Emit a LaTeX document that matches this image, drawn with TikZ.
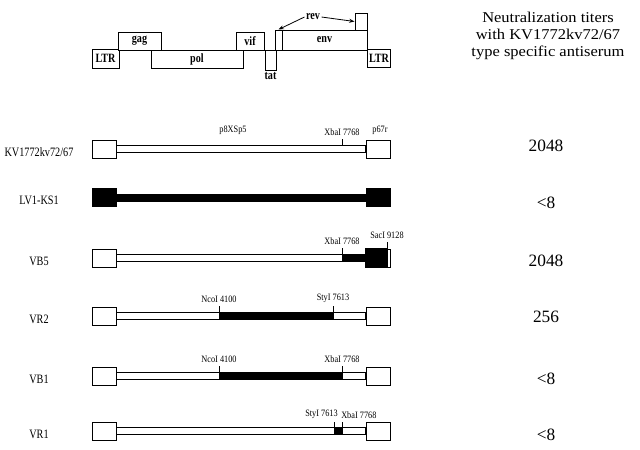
\documentclass[tikz,border=0pt]{standalone}
\usepackage{fontspec}
\setmainfont{Liberation Serif}
\newfontfamily\condfont[FakeStretch=0.8]{Liberation Serif}
\newfontfamily\sitefont[FakeStretch=0.85]{Liberation Serif}
\newfontfamily\widefont[FakeStretch=1.1]{Liberation Serif}
\usetikzlibrary{arrows.meta,positioning}
\tikzset{
  endbox/.style={draw,line width=0.75pt,minimum width=18pt,minimum height=13.5pt,inner sep=0pt},
  barbox/.style={draw,line width=0.6pt},
  blk/.style={draw,fill=black,line width=0.6pt},
  gene/.style={draw,fill=white,line width=0.75pt,inner sep=0pt,font=\condfont\bfseries\fontsize{9.5}{10}\selectfont},
  genelab/.style={inner sep=1pt,font=\condfont\bfseries\fontsize{9.5}{10}\selectfont},
  cut/.style={line width=0.6pt},
  site/.style={inner sep=0pt,anchor=south,yshift=2.25pt,font=\sitefont\fontsize{7.3}{8}\selectfont},
  rowlab/.style={font=\condfont\fontsize{9.6}{10}\selectfont},
  titer/.style={anchor=base,font=\fontsize{13}{15}\selectfont},
}
\begin{document}
\begin{tikzpicture}[x=0.75pt,y=-0.75pt]
\useasboundingbox (0,0) rectangle (640,450);
% genome map
\node[gene,minimum width=20.25pt,minimum height=14.25pt] (ltrL) at (105.5,58.5) {LTR};
\node[gene,minimum width=69pt,minimum height=13.5pt] (pol) at (197,59) {pol};
\node[gene,minimum width=32.25pt,minimum height=13.5pt] (gag) at (139.5,41) {gag};
\node[gene,minimum width=21pt,minimum height=13.5pt] (vif) at (250,41) {vif};
\node[gene,minimum width=8.25pt,minimum height=15pt] (tat) at (270.5,60) {};
\node[genelab,below=0.5pt of tat] (tatlab) {tat};
\node[gene,minimum width=5.25pt,minimum height=15pt] (revA) at (278.5,40) {};
\node[gene,minimum width=63.75pt,minimum height=15pt] (env) at (324.5,40) {env};
\node[gene,minimum width=9pt,minimum height=12.75pt] (revB) at (361,21.5) {};
\node[gene,minimum width=17.25pt,minimum height=13.5pt] (ltrR) at (379,58) {LTR};
\node[genelab] (rev) at (313,17) {rev};
\draw[line width=0.6pt,-{Stealth[length=4pt,width=3pt]}] (rev.west) -- (revA.north);
\draw[line width=0.6pt,-{Stealth[length=4pt,width=3pt]}] (rev.east) -- (revB.west);
\node[align=center,font=\widefont\fontsize{11.25}{12.75}\selectfont] (title) at (548,36)
  {Neutralization titers\\with KV1772kv72/67\\type specific antiserum};
% constructs
\foreach \r/\y/\c/\lab/\t/\b in {kv/149/white/KV1772kv72\slash 67/2048/151,
  lv/197.5/black/LV1-KS1/<8/208, vbf/258/white/VB5/2048/266,
  vrt/316/white/VR2/256/322, vbo/376/white/VB1/<8/384, vro/431/white/VR1/<8/440}{
  \node[endbox,fill=\c] (\r L) at (104,\y) {};
  \node[endbox,fill=\c] (\r R) at (378,\y) {};
  \draw[barbox,fill=\c] ([yshift=2.625pt]\r L.east) rectangle ([yshift=-2.625pt]\r R.west);
  \node[rowlab] (\r lab) at (39,\y+3) {\lab};
  \node[titer] (\r tit) at (546,\b) {\t};
}
% KV1772kv72/67
\node[site,anchor=base,yshift=0pt] (kvsp) at (233,135.5) {p8XSp5};
\node[site,anchor=base,yshift=0pt] (kvpr) at (380,135.5) {p67r};
\draw[cut] (342,145.5) -- (342,138.5) node[site] (kvxb) {XbaI 7768};
% VB5
\draw[blk] (342,254.5) rectangle (366,261.5);
\draw[blk] (vbfR.north west) rectangle ([xshift=-2.25pt]vbfR.south east);
\draw[cut] (342,254.5) -- (342,247.5) node[site] (vbfxb) {XbaI 7768};
\draw[cut] (387,249) -- (387,242) node[site] (vbfsac) {SacI 9128};
% VR2
\draw[blk] (219,312.5) rectangle (333,319.5);
\draw[cut] (219,312.5) -- (219,305.5) node[site] (vrtnco) {NcoI 4100};
\draw[cut] (333,312.5) -- (333,305.5) node[site] (vrtsty) {StyI 7613};
% VB1
\draw[blk] (219,372.5) rectangle (342,379.5);
\draw[cut] (219,372.5) -- (219,365.5) node[site] (vbonco) {NcoI 4100};
\draw[cut] (342,372.5) -- (342,365.5) node[site] (vboxb) {XbaI 7768};
% VR1
\draw[blk] (334,427.5) rectangle (342,434.5);
\draw[cut] (334,427.5) -- (334,421.5);
\draw[cut] (342,427.5) -- (342,421.5);
\node[site,anchor=south east] (vrosty) at (338,421.5) {StyI 7613};
\node[site,anchor=south west] (vroxb) at (341,421.5) {XbaI 7768};
\end{tikzpicture}
\end{document}
